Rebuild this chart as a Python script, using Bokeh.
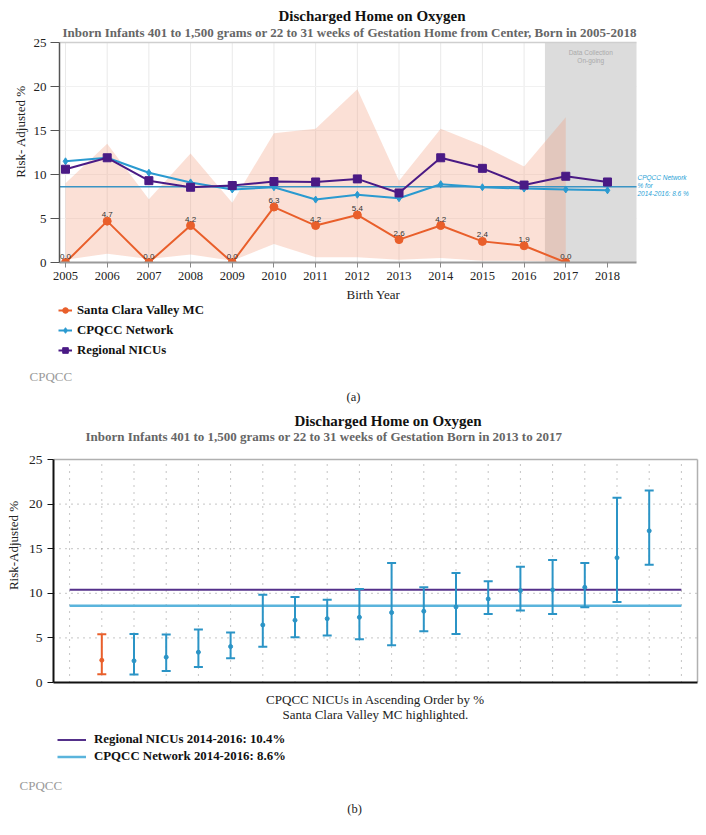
from bokeh.plotting import figure
from bokeh.layouts import column
from bokeh.models import (ColumnDataSource, FixedTicker, Label, LabelSet, Legend,
                          LegendItem, Range1d)
from bokeh.embed import file_html
from bokeh.resources import INLINE
from bokeh.core.properties import value

# ---------------- data: chart (a) ----------------
years = [2005, 2006, 2007, 2008, 2009, 2010, 2011, 2012, 2013, 2014, 2015, 2016, 2017, 2018]
scv_years = [2005, 2006, 2007, 2008, 2009, 2010, 2011, 2012, 2013, 2014, 2015, 2016, 2017]
scv_rate = [0.0, 4.7, 0.0, 4.2, 0.0, 6.3, 4.2, 5.4, 2.6, 4.2, 2.4, 1.9, 0.0]
scv_upper = [9.0, 13.5, 7.2, 12.4, 6.8, 14.7, 15.2, 19.7, 9.3, 15.2, 13.3, 10.9, 16.5]
scv_lower = [0.3, 1.0, 0.4, 0.9, 0.2, 2.1, 0.6, 0.6, 0.3, 0.5, 0.2, 0.2, 0.0]
network_rate = [11.5, 11.9, 10.2, 9.1, 8.3, 8.55, 7.15, 7.7, 7.3, 8.9, 8.55, 8.4, 8.3, 8.2]
regional_rate = [10.6, 11.9, 9.3, 8.55, 8.75, 9.2, 9.15, 9.5, 7.9, 11.9, 10.7, 8.8, 9.8, 9.15]
network_ref_a = 8.6
ongoing_from = 2016.5

# ---------------- data: chart (b) ----------------
nicu_rate = [2.5, 2.43, 2.84, 3.4, 4.03, 6.45, 6.98, 7.16, 7.31, 7.84, 7.99, 8.47, 9.37, 10.3, 10.37, 10.67, 13.99, 17.0]
nicu_lower = [0.93, 0.9, 1.3, 1.75, 2.72, 4.0, 5.07, 5.26, 4.85, 4.18, 5.75, 5.45, 7.69, 8.06, 7.69, 8.43, 9.03, 13.2]
nicu_upper = [5.4, 5.45, 5.37, 5.93, 5.6, 9.85, 9.59, 9.29, 10.49, 13.4, 10.67, 12.28, 11.34, 12.99, 13.73, 13.4, 20.7, 21.53]
highlight_index = 0
regional_ref_b = 10.4
network_ref_b = 8.6
y_ticks = [0, 5, 10, 15, 20, 25]
Y_MAX = 25

SERIF = "Liberation Serif"
SANS = "Liberation Sans"
ORANGE = "#e95f2b"
BLUE = "#2a9ad0"
PURPLE = "#4a1a85"
LBLUE = "#5ab4dc"
W = 706
NAN = float("nan")


def no_align(p):
    try:
        p.frame_align = False
    except Exception:
        pass
    return p


def add_text(p, x, y, text, size="13px", color="#222222", style="normal", font=SERIF,
             align="left"):
    p.add_layout(Label(x=x, y=y, text=text, text_font=font, text_font_size=size,
                       text_color=color, text_font_style=style, text_align=align,
                       text_baseline="middle"))


def text_panel(h):
    f = figure(width=W, height=h, output_backend="svg", toolbar_location=None,
               x_range=Range1d(0, W), y_range=Range1d(h, 0),
               x_axis_type=None, y_axis_type=None, min_border=0)
    f.outline_line_color = None
    return no_align(f)


def style_legend(leg, gw, gh, standoff, size):
    leg.border_line_color = None
    leg.background_fill_alpha = 0
    leg.padding = 0
    leg.margin = 0
    leg.spacing = 0
    leg.glyph_width = gw
    leg.glyph_height = gh
    leg.label_height = gh
    leg.label_standoff = standoff
    leg.label_text_font = SERIF
    leg.label_text_font_style = "bold"
    leg.label_text_font_size = size
    leg.label_text_color = "#111111"


# =============== chart (a) ===============
HA = 286
A_LEFT, A_BOT = 59, 24
A_FW, A_FH = W - A_LEFT, HA - A_BOT          # frame 647 x 262
PXA, PYA = 41.69, 8.8                         # px per year / per %
XA0 = years[0] - 6 / PXA
XA1 = XA0 + A_FW / PXA
XAR = XA0 + 577 / PXA                          # right edge of the plotted area

pa = no_align(figure(width=W, height=HA, output_backend="svg", toolbar_location=None,
                     x_range=Range1d(XA0, XA1), y_range=Range1d(0, A_FH / PYA),
                     min_border_left=A_LEFT, min_border_top=0, min_border_right=0,
                     min_border_bottom=A_BOT))
pa.outline_line_color = None
pa.grid.visible = False


def axy(px, py):
    return XA0 + (px - A_LEFT) / PXA, (A_FH - py) / PYA


pa.xaxis.ticker = FixedTicker(ticks=years)
pa.yaxis.ticker = FixedTicker(ticks=y_ticks)
pa.xaxis.bounds = (XA0, XAR)
pa.yaxis.bounds = (0, Y_MAX)
for axis in (pa.xaxis, pa.yaxis):
    axis.major_label_text_font = SERIF
    axis.major_label_text_color = "#222222"
    axis.minor_tick_line_color = None
    axis.major_tick_in = 0
pa.xaxis.axis_line_color = "#9a9a9a"
pa.xaxis.axis_line_width = 2
pa.xaxis.major_tick_line_color = "#888888"
pa.xaxis.major_tick_out = 5
pa.xaxis.major_label_text_font_size = "12.5px"
pa.xaxis.major_label_standoff = 4
pa.yaxis.axis_line_color = "#555555"
pa.yaxis.axis_line_width = 1.5
pa.yaxis.major_tick_line_color = "#555555"
pa.yaxis.major_tick_out = 9
pa.yaxis.major_label_text_font_size = "13px"
pa.yaxis.major_label_standoff = 4
pa.yaxis.axis_label = "Risk- Adjusted %"
pa.yaxis.axis_label_text_font = SERIF
pa.yaxis.axis_label_text_font_style = "normal"
pa.yaxis.axis_label_text_font_size = "13px"
pa.yaxis.axis_label_text_color = "#222222"
pa.yaxis.axis_label_standoff = 3

# grid (drawn as glyphs so it stops at the plotted area)
pa.segment(x0=years, y0=0, x1=years, y1=Y_MAX, line_color="#e9e9e9", line_width=1)
pa.segment(x0=XA0, y0=y_ticks[1:-1], x1=XAR, y1=y_ticks[1:-1], line_color="#f1f1f1", line_width=1)

# gray "data collection on-going" region
pa.quad(left=[ongoing_from], right=[XAR], bottom=[0], top=[Y_MAX],
        fill_color="#dcdcdc", line_color=None)
pa.segment(x0=[XA0], y0=[Y_MAX], x1=[XAR], y1=[Y_MAX], line_color="#cfcfcf", line_width=1.5)

# confidence band
pa.varea(x=scv_years, y1=scv_lower, y2=scv_upper, fill_color="#f29878", fill_alpha=0.3)
pa.line([XA0, XAR], [network_ref_a, network_ref_a], line_color="#3a94c4", line_width=1.5)

pa.line(years, network_rate, line_color=BLUE, line_width=2)
pa.scatter(years, network_rate, marker="diamond", size=7, color=BLUE)
pa.line(years, regional_rate, line_color=PURPLE, line_width=2)
pa.scatter(years, regional_rate, marker="square", size=8, color=PURPLE)
pa.line(scv_years, scv_rate, line_color=ORANGE, line_width=2)
pa.scatter(scv_years, scv_rate, marker="circle", size=8, color=ORANGE)

src_lbl = ColumnDataSource(dict(x=scv_years, y=scv_rate, t=[f"{v:.1f}" for v in scv_rate]))
pa.add_layout(LabelSet(x="x", y="y", text="t", source=src_lbl, y_offset=4,
                       text_align="center", text_baseline="bottom",
                       text_font=value(SANS), text_font_size="8px", text_color="#333333"))

box_mid = (ongoing_from + XAR) / 2
add_text(pa, box_mid, axy(0, 52)[1], "Data Collection", "6.5px", "#aaaaaa", font=SANS, align="center")
add_text(pa, box_mid, axy(0, 60)[1], "On-going", "6.5px", "#aaaaaa", font=SANS, align="center")
for i, t in enumerate(["CPQCC Network", "% for", "2014-2016: 8.6 %"]):
    add_text(pa, *axy(637, 177 + 8 * i), t, "6.5px", "#2a9fd6", "italic", SANS)

add_text(pa, *axy(278, 15), "Discharged Home on Oxygen", "15px", "#111111", "bold")
add_text(pa, *axy(62, 32),
         "Inborn Infants 401 to 1,500 grams or 22 to 31 weeks of Gestation Home from Center, Born in 2005-2018",
         "13px", "#666666", "bold")

# =============== footer (a) ===============
FA = 122
fa = text_panel(FA)
add_text(fa, 346, 8, "Birth Year", "13px")
add_text(fa, 29, 90, "CPQCC", "13px", "#9a9a9a")
add_text(fa, 353, 110, "(a)", "12.5px", align="center")
d1 = fa.line(x=[NAN], y=[NAN], line_color=ORANGE, line_width=2)
d1m = fa.scatter(x=[NAN], y=[NAN], marker="circle", size=8, color=ORANGE)
d2 = fa.line(x=[NAN], y=[NAN], line_color=BLUE, line_width=2)
d2m = fa.scatter(x=[NAN], y=[NAN], marker="diamond", size=7, color=BLUE)
d3 = fa.line(x=[NAN], y=[NAN], line_color=PURPLE, line_width=2)
d3m = fa.scatter(x=[NAN], y=[NAN], marker="square", size=8, color=PURPLE)
leg_a = Legend(items=[LegendItem(label="Santa Clara Valley MC", renderers=[d1, d1m]),
                      LegendItem(label="CPQCC Network", renderers=[d2, d2m]),
                      LegendItem(label="Regional NICUs", renderers=[d3, d3m])],
               location=(58, FA - 74))
style_legend(leg_a, 14, 20, 5, "12.8px")
fa.add_layout(leg_a)

# =============== chart (b) ===============
HB = 282
B_LEFT, B_BOT = 53, 8
B_FW, B_FH = W - B_LEFT, HB - B_BOT           # frame 653 x 274
n = len(nicu_rate)
xs = list(range(1, n + 1))
PXB, PYB = 32.2, 8.92
XB0 = -0.5
XB1 = XB0 + B_FW / PXB
XBR = n + 1.5                                  # right edge of the plotted box

pb = no_align(figure(width=W, height=HB, output_backend="svg", toolbar_location=None,
                     x_range=Range1d(XB0, XB1), y_range=Range1d(0, B_FH / PYB),
                     min_border_left=B_LEFT, min_border_top=0, min_border_right=0,
                     min_border_bottom=B_BOT))
pb.outline_line_color = None
pb.grid.visible = False


def bxy(px, py):
    return XB0 + (px - B_LEFT) / PXB, (B_FH - (py - 408)) / PYB


pb.yaxis.ticker = FixedTicker(ticks=y_ticks)
pb.yaxis.bounds = (0, Y_MAX)
pb.xaxis.ticker = FixedTicker(ticks=[])
pb.xaxis.bounds = (XB0, XBR)
pb.xaxis.axis_line_color = "#111111"
pb.xaxis.axis_line_width = 2
pb.xaxis.major_tick_line_color = None
pb.xaxis.minor_tick_line_color = None
pb.xaxis.major_tick_out = 0
pb.xaxis.major_label_text_font_size = "0px"
pb.yaxis.axis_line_color = "#111111"
pb.yaxis.axis_line_width = 2
pb.yaxis.major_tick_line_color = "#111111"
pb.yaxis.major_tick_out = 6
pb.yaxis.major_tick_in = 0
pb.yaxis.minor_tick_line_color = None
pb.yaxis.major_label_text_font = SERIF
pb.yaxis.major_label_text_font_size = "13.5px"
pb.yaxis.major_label_text_color = "#222222"
pb.yaxis.major_label_standoff = 5
pb.yaxis.axis_label = "Risk-Adjusted %"
pb.yaxis.axis_label_text_font = SERIF
pb.yaxis.axis_label_text_font_style = "normal"
pb.yaxis.axis_label_text_font_size = "13px"
pb.yaxis.axis_label_text_color = "#222222"
pb.yaxis.axis_label_standoff = 5

grid_x = list(range(0, n + 2))
pb.segment(x0=grid_x, y0=0, x1=grid_x, y1=Y_MAX, line_color="#8a8a8a", line_dash="1 6")
pb.segment(x0=XB0, y0=y_ticks[1:-1], x1=XBR, y1=y_ticks[1:-1], line_color="#8a8a8a", line_dash="1 5")
pb.segment(x0=[XB0, XBR], y0=[Y_MAX, 0], x1=[XBR, XBR], y1=[Y_MAX, Y_MAX],
           line_color="#b0b0b0", line_width=1.5)

pb.line([0, n + 1], [regional_ref_b, regional_ref_b], line_color="#54308a", line_width=2)
pb.line([0, n + 1], [network_ref_b, network_ref_b], line_color=LBLUE, line_width=2.5)

colors = [ORANGE if i == highlight_index else "#2b94c6" for i in range(n)]
src_b = ColumnDataSource(dict(x=xs, r=nicu_rate, lo=nicu_lower, hi=nicu_upper, c=colors))
pb.segment(x0="x", y0="lo", x1="x", y1="hi", line_color="c", line_width=2, source=src_b)
pb.scatter(x="x", y="hi", marker="dash", size=9, line_color="c", line_width=2, source=src_b)
pb.scatter(x="x", y="lo", marker="dash", size=9, line_color="c", line_width=2, source=src_b)
pb.scatter(x="x", y="r", marker="circle", size=4, color="c", source=src_b)

add_text(pb, *bxy(294, 420), "Discharged Home on Oxygen", "15px", "#111111", "bold")
add_text(pb, *bxy(85, 436),
         "Inborn Infants 401 to 1,500 grams or 22 to 31 weeks of Gestation Born in 2013 to 2017",
         "13px", "#666666", "bold")

# =============== footer (b) ===============
FB0 = 408 + HB                                  # page y of footer top
FB = 835 - FB0
fb = text_panel(FB)
add_text(fb, 375, 698.5 - FB0, "CPQCC NICUs in Ascending Order by %", "13px", align="center")
add_text(fb, 375, 714 - FB0, "Santa Clara Valley MC highlighted.", "13px", align="center")
add_text(fb, 19, 785 - FB0, "CPQCC", "13px", "#9a9a9a")
add_text(fb, 354, 808 - FB0, "(b)", "12.5px", align="center")
e1 = fb.line(x=[NAN], y=[NAN], line_color="#54308a", line_width=2)
e2 = fb.line(x=[NAN], y=[NAN], line_color=LBLUE, line_width=2.5)
leg_b = Legend(items=[LegendItem(label="Regional NICUs 2014-2016: 10.4%", renderers=[e1]),
                      LegendItem(label="CPQCC Network 2014-2016: 8.6%", renderers=[e2])],
               location=(57, FB - (764.5 - FB0)))
style_legend(leg_b, 29, 17, 8, "12.85px")
fb.add_layout(leg_b)

layout = column(pa, fa, pb, fb, spacing=0)
open("out.html", "w").write(file_html(layout, INLINE))
